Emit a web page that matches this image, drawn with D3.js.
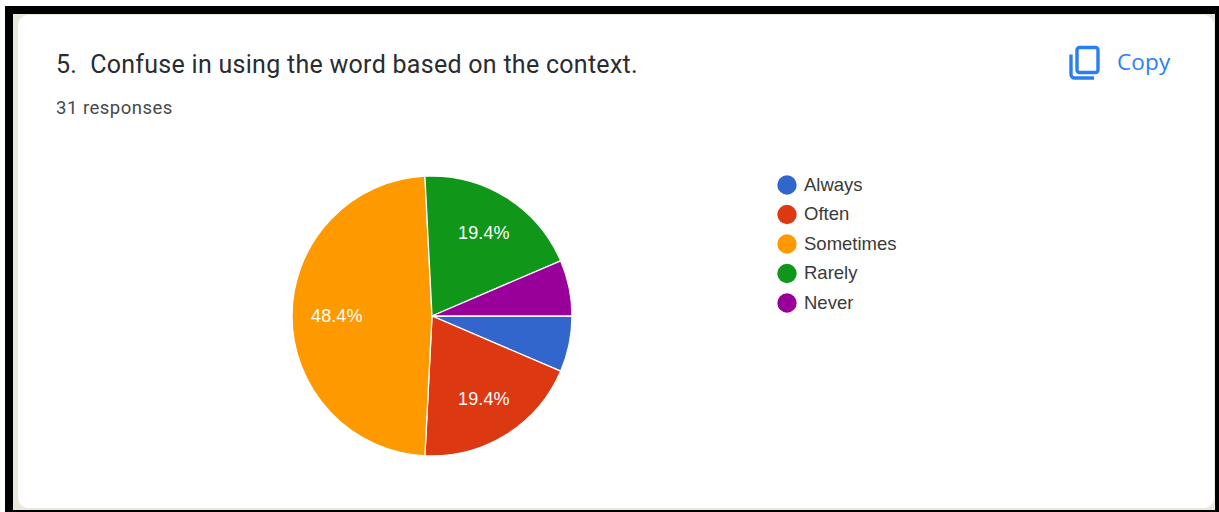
<!DOCTYPE html>
<html>
<head>
<meta charset="utf-8">
<script src="https://cdn.jsdelivr.net/npm/d3@7"></script>
<style>
html,body{margin:0;padding:0;background:#fff;overflow:hidden}
svg{display:block}
text{font-family:Roboto,Arial,sans-serif}
</style>
</head>
<body>
<svg id="chart" width="1219" height="512"></svg>
<script>
const categories = ["Always", "Often", "Sometimes", "Rarely", "Never"];
const responses = [2, 6, 15, 6, 2];
const colors = ["#3366cc", "#dc3912", "#ff9900", "#109618", "#990099"];
const percentLabels = ["", "19.4%", "48.4%", "19.4%", ""];

const svg = d3.select("#chart");

// Black frame around the response card
svg.append("rect").attr("x", 5).attr("y", 6).attr("width", 1214).attr("height", 506).attr("fill", "#000");
svg.append("rect").attr("x", 13).attr("y", 14).attr("width", 1202).attr("height", 496).attr("fill", "#e9e8da");
svg.append("rect").attr("x", 18).attr("y", 15).attr("width", 1196).attr("height", 493)
  .attr("rx", 10).attr("fill", "#fff");

// Card header
svg.append("text").attr("x", 56).attr("y", 73).attr("font-size", 25).attr("letter-spacing", 0.28)
  .attr("fill", "#2b2c2f").style("white-space", "pre")
  .text("5.  Confuse in using the word based on the context.");
svg.append("text").attr("x", 56).attr("y", 114).attr("font-size", 18.5).attr("letter-spacing", 0.5)
  .attr("fill", "#47494d").text("31 responses");

// Copy button: two overlapping page outlines and a label
const icon = svg.append("g").attr("fill", "none").attr("stroke", "#2a7ff0").attr("stroke-width", 3.4);
icon.append("rect").attr("x", 1077).attr("y", 47.5).attr("width", 21).attr("height", 25).attr("rx", 2.5);
icon.append("path").attr("d", "M1071 54.5V74.5a3.5 3.5 0 0 0 3.5 3.5H1094");
svg.append("text").attr("x", 1117).attr("y", 70).attr("font-size", 22.5).attr("letter-spacing", 0.2)
  .attr("font-weight", 500)
  .attr("fill", "#2a7ff0").style("font-family", "'Open Sans',Roboto,sans-serif").text("Copy");

// Pie, clockwise from three o'clock
const radius = 140;
const pieGroup = svg.append("g").attr("transform", "translate(432,316)");
const pie = d3.pie().sort(null).startAngle(Math.PI / 2).endAngle(Math.PI * 2.5);
const arc = d3.arc().innerRadius(0).outerRadius(radius);
const arcs = pie(responses);

// Percent labels sit a little further in on the widest slice
const labelPosition = d => {
  const r = radius * (d.endAngle - d.startAngle > Math.PI * 0.9 ? 0.68 : 0.7);
  return d3.arc().innerRadius(r).outerRadius(r).centroid(d);
};

pieGroup.selectAll("path").data(arcs).join("path")
  .attr("d", arc)
  .attr("fill", (d, i) => colors[i])
  .attr("stroke", "#fff")
  .attr("stroke-width", 1.3);

pieGroup.selectAll("text").data(arcs).join("text")
  .attr("transform", d => `translate(${labelPosition(d)})`)
  .attr("text-anchor", "middle")
  .attr("dy", "0.34em")
  .attr("font-size", 18)
  .attr("letter-spacing", 0.1)
  .attr("fill", "#fff")
  .style("font-family", "Arial,'Liberation Sans',sans-serif")
  .text((d, i) => percentLabels[i]);

// Legend
const legendY = d3.scalePoint().domain(categories).range([185, 303]);
const legend = svg.selectAll("g.legend").data(categories).join("g")
  .attr("class", "legend")
  .attr("transform", d => `translate(787,${legendY(d)})`);
legend.append("circle").attr("r", 9.7).attr("fill", (d, i) => colors[i]);
legend.append("text").attr("x", 17).attr("dy", "0.31em").attr("font-size", 18.5)
  .attr("fill", "#3a3a3a").style("font-family", "Arial,'Liberation Sans',sans-serif").text(d => d);
</script>
</body>
</html>
